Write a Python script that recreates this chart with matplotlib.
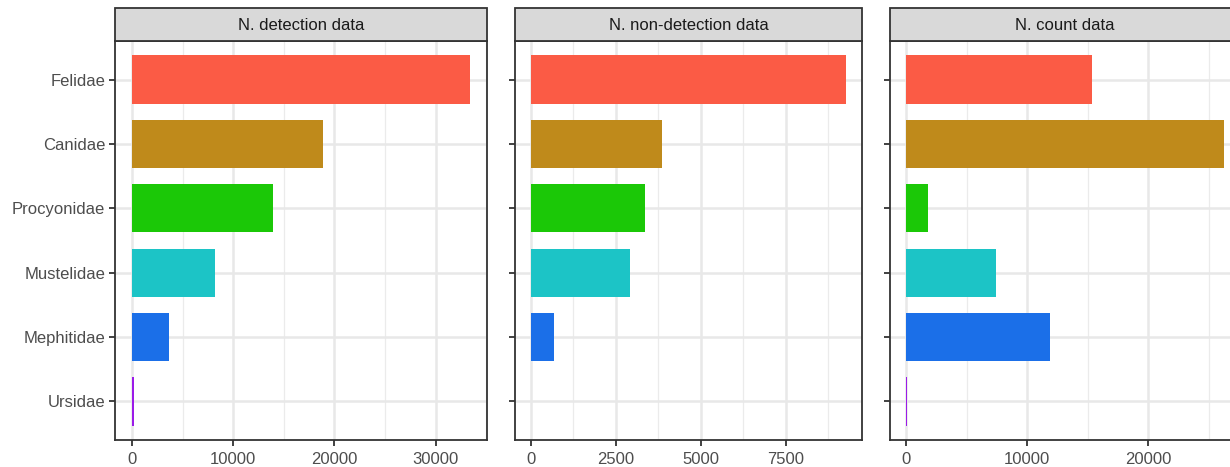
import matplotlib
matplotlib.use("Agg")
import matplotlib.pyplot as plt
from matplotlib.patches import Rectangle
from matplotlib.ticker import MultipleLocator

families = ["Felidae", "Canidae", "Procyonidae", "Mustelidae", "Mephitidae", "Ursidae"]
colors = ["#FB5B45", "#BF8A1B", "#1BC807", "#1CC4C6", "#1B6FE8", "#9B1BE8"]

panel_titles = ["N. detection data", "N. non-detection data", "N. count data"]
detection = [33400, 18850, 13920, 8220, 3680, 200]
non_detection = [9280, 3865, 3365, 2925, 695, 0]
count = [15340, 26250, 1810, 7450, 11910, 60]
major_steps = [10000, 2500, 10000]

W, H = 1230, 467
fig = plt.figure(figsize=(W / 100, H / 100), dpi=100)
plt.rcParams['font.family'] = ['Liberation Sans', 'DejaVu Sans']

# panel pixel extents (left, right)
panels_px = [(115, 487), (515, 862), (890, 1240)]
top_px, bottom_px = 41, 440
strip_h = 33

data_sets = [detection, non_detection, count]
for i, ((l, r), title, vals, step) in enumerate(zip(panels_px, panel_titles, data_sets, major_steps)):
    ax = fig.add_axes([l / W, (H - bottom_px) / H, (r - l) / W, (bottom_px - top_px) / H])
    ypos = list(range(len(families)))
    ax.barh(ypos, vals, height=0.75, color=colors, zorder=3)
    mx = max(vals)
    ax.set_xlim(-0.05 * mx, 1.05 * mx)
    ax.set_ylim(len(families) - 0.4, -0.6)
    ax.set_yticks(ypos)
    if i == 0:
        ax.set_yticklabels(families)
    else:
        ax.set_yticklabels([])
    ax.xaxis.set_major_locator(MultipleLocator(step))
    ax.xaxis.set_minor_locator(MultipleLocator(step / 2))
    ax.grid(True, which='major', color='#E8E8E8', linewidth=1.8, zorder=0)
    ax.grid(True, which='minor', axis='x', color='#EBEBEB', linewidth=0.9, zorder=0)
    ax.set_axisbelow(True)
    ax.tick_params(axis='both', which='major', length=4.5, width=1.3, color='#333333',
                   labelsize=12, labelcolor='#4D4D4D', pad=2.5)
    ax.tick_params(axis='x', which='major', pad=4)
    ax.tick_params(axis='x', which='minor', length=0)
    for s in ax.spines.values():
        s.set_color('#333333')
        s.set_linewidth(1.3)
    ax.set_facecolor('white')
    # strip
    sh = strip_h / (bottom_px - top_px)
    rect = Rectangle((0, 1), 1, sh, transform=ax.transAxes, facecolor='#D9D9D9',
                     edgecolor='#333333', linewidth=1.3, clip_on=False, zorder=5)
    ax.add_patch(rect)
    cx_px = (l + r) / 2
    ax.text((cx_px - l) / (r - l), 1 + sh / 2, title, transform=ax.transAxes,
            ha='center', va='center_baseline', fontsize=12, color='#1A1A1A', zorder=6)

fig.savefig("out.png", dpi=100, facecolor='white')
